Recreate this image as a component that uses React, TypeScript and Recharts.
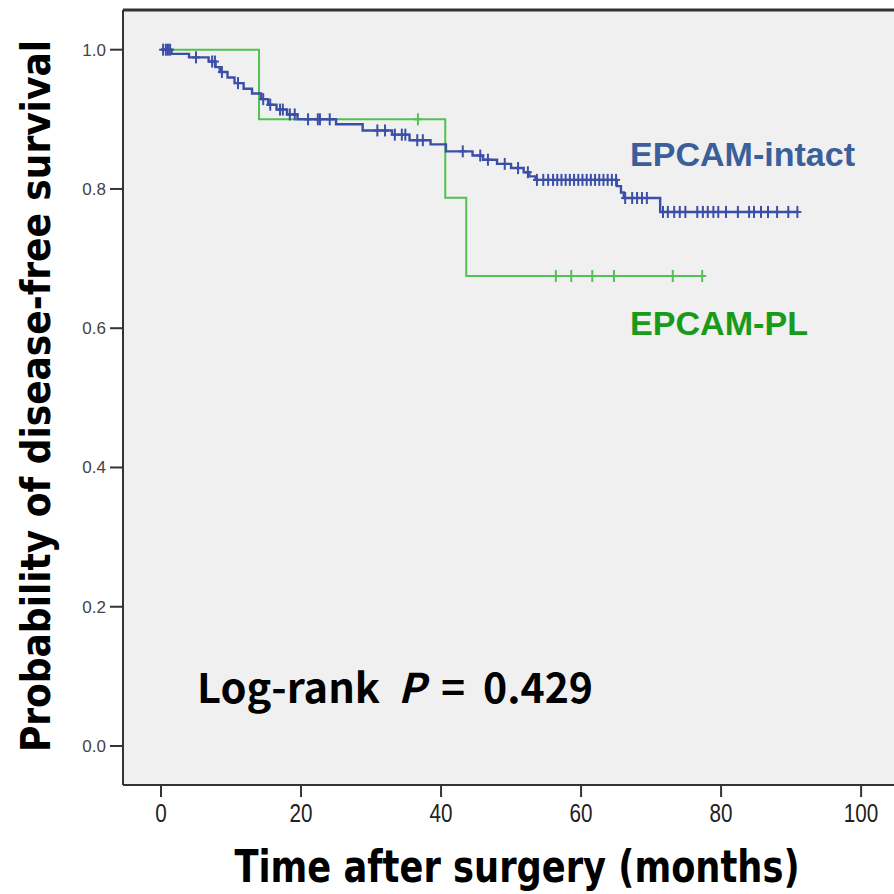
import { ComposedChart, Line, Scatter, XAxis, YAxis, ReferenceLine, CartesianGrid } from "recharts";

// Kaplan-Meier step points, EPCAM-intact
const intactTime = [0, 1.5, 4, 6.8, 7.8, 8.4, 9.5, 10.5, 11.8, 13, 14.3, 15.3, 16.5, 18, 19.5, 25, 28.8, 33, 35.5, 38.5, 40.7, 44.5, 46, 48, 50, 51.8, 52.6, 53.5, 65.1, 65.7, 66.1, 71.3, 90.9];
const intactSurv = [1.0, 0.994, 0.989, 0.983, 0.975, 0.968, 0.96, 0.952, 0.944, 0.937, 0.929, 0.921, 0.914, 0.907, 0.9, 0.893, 0.884, 0.878, 0.87, 0.864, 0.854, 0.848, 0.842, 0.836, 0.83, 0.824, 0.818, 0.813, 0.804, 0.795, 0.787, 0.767, 0.767];
const intactCensor = [0.3, 0.7, 1.0, 1.3, 5, 7.3, 7.7, 8.7, 11, 14.6, 15.6, 17, 17.4, 18.4, 19.1, 21, 22.4, 22.7, 24.1, 30.9, 32, 33.4, 34.4, 34.9, 36.6, 37.4, 43.1, 45.6, 46.7, 49.1, 51, 52.4, 53.7, 54.6, 55.3, 56, 56.6, 57.2, 57.8, 58.4, 59, 59.6, 60.2, 60.8, 61.4, 62, 62.6, 63.2, 63.8, 64.4, 65, 66.3, 67.3, 68, 68.7, 69.4, 71.7, 72.4, 73.3, 74.1, 74.9, 76.6, 77.4, 78.1, 78.9, 79.6, 80.7, 82.4, 84, 84.7, 85.7, 86.7, 88, 89.6, 90.9];

// EPCAM-PL
const plTime = [0, 14, 40.6, 43.6, 77.7];
const plSurv = [1.0, 0.9, 0.7875, 0.675, 0.675];
const plCensor = [36.7, 56.4, 58.6, 61.6, 64.7, 73.1, 77.3];

const xTicks = [0, 20, 40, 60, 80, 100];
const yTicks = [0, 0.2, 0.4, 0.6, 0.8, 1.0];

const X_DOMAIN: [number, number] = [-5.43, 104.7];
const Y_DOMAIN: [number, number] = [-0.056, 1.057];

const BLUE = "#3c4ea8";
const GREEN = "#52c152";

const survAt = (times: number[], surv: number[], t: number) => {
  let v = surv[0];
  for (let i = 0; i < times.length; i++) if (times[i] <= t) v = surv[i];
  return v;
};

const intactData = intactTime.map((t, i) => ({ t, s: intactSurv[i] }));
const plData = plTime.map((t, i) => ({ t, s: plSurv[i] }));
const intactMarks = intactCensor.map((t) => ({ t, s: survAt(intactTime, intactSurv, t) }));
const plMarks = plCensor.map((t) => ({ t, s: survAt(plTime, plSurv, t) }));

const censorShape = (color: string) => (props: any) => {
  const { cx, cy } = props;
  return (
    <g stroke={color} strokeWidth={2}>
      <line x1={cx} y1={cy - 6} x2={cx} y2={cy + 6} />
      <line x1={cx - 4} y1={cy} x2={cx + 4} y2={cy} />
    </g>
  );
};

const narrow = "'Liberation Sans Narrow', 'DejaVu Sans Condensed', 'Liberation Sans', Arial, sans-serif";

const XTick = (props: any) => {
  const { x, y, payload } = props;
  const label = String(payload.value);
  return (
    <text x={x} y={y + 23} textAnchor="middle" fontFamily="'Liberation Sans', Arial, sans-serif" fontSize={25} fill="#222" textLength={11.5 * label.length} lengthAdjust="spacingAndGlyphs">
      {label}
    </text>
  );
};

const YTick = (props: any) => {
  const { x, y, payload } = props;
  return (
    <text x={x - 2} y={y + 6} textAnchor="end" fontFamily="'Liberation Sans', Arial, sans-serif" fontSize={17} fill="#444">
      {Number(payload.value).toFixed(1)}
    </text>
  );
};

export default function App() {
  return (
    <div style={{ position: "absolute", left: 0, top: 0, width: 894, height: 894, overflow: "hidden", background: "#fff" }}>
      <ComposedChart width={894} height={894} margin={{ top: 10, right: 0, bottom: 0, left: 0 }}>
        <CartesianGrid horizontal={false} vertical={false} fill="#f0f0f0" />
        <XAxis
          type="number"
          dataKey="t"
          domain={X_DOMAIN}
          ticks={xTicks}
          allowDataOverflow
          height={109}
          axisLine={{ stroke: "#333", strokeWidth: 2 }}
          tickLine={{ stroke: "#333", strokeWidth: 2 }}
          tickSize={12}
          tick={<XTick />}
        />
        <YAxis
          type="number"
          dataKey="s"
          domain={Y_DOMAIN}
          ticks={yTicks}
          allowDataOverflow
          width={123}
          axisLine={{ stroke: "#333", strokeWidth: 2 }}
          tickLine={{ stroke: "#333", strokeWidth: 2 }}
          tickSize={13}
          tick={<YTick />}
        />
        <ReferenceLine y={Y_DOMAIN[1]} stroke="#333" strokeWidth={3} />
        <Line data={plData} dataKey="s" type="stepAfter" stroke={GREEN} strokeWidth={2} dot={false} isAnimationActive={false} />
        <Line data={intactData} dataKey="s" type="stepAfter" stroke={BLUE} strokeWidth={2.4} dot={false} isAnimationActive={false} />
        <Scatter data={plMarks} dataKey="s" shape={censorShape(GREEN)} isAnimationActive={false} />
        <Scatter data={intactMarks} dataKey="s" shape={censorShape(BLUE)} isAnimationActive={false} />
      </ComposedChart>
      <svg width={894} height={894} style={{ position: "absolute", left: 0, top: 0, pointerEvents: "none" }}>
        <text
          transform="translate(50,396) rotate(-90)"
          textAnchor="middle"
          fontFamily={narrow}
          fontWeight="bold"
          fontSize={40}
          textLength={712}
          lengthAdjust="spacingAndGlyphs"
          fill="#000"
        >
          Probability of disease-free survival
        </text>
        <text
          x={517}
          y={882}
          textAnchor="middle"
          fontFamily={narrow}
          fontWeight="bold"
          fontSize={44}
          textLength={565}
          lengthAdjust="spacingAndGlyphs"
          fill="#000"
        >
          Time after surgery (months)
        </text>
        <g fontFamily="'Noto Sans CJK KR', 'Noto Sans', sans-serif" fontWeight="bold" fontSize={41} fill="#000">
          <text x={197} y={703} textLength={183} lengthAdjust="spacingAndGlyphs">Log-rank</text>
          <text x={398} y={703} fontStyle="italic">P</text>
          <text x={441} y={703}>=</text>
          <text x={483} y={703} textLength={110} lengthAdjust="spacingAndGlyphs">0.429</text>
        </g>
        <text x={630} y={166} fontFamily="Arial, 'Liberation Sans', sans-serif" fontWeight="bold" fontSize={34} fill="#3a5f9a" textLength={225} lengthAdjust="spacingAndGlyphs">
          EPCAM-intact
        </text>
        <text x={630} y={335} fontFamily="Arial, 'Liberation Sans', sans-serif" fontWeight="bold" fontSize={34} fill="#1a9a1a" textLength={178} lengthAdjust="spacingAndGlyphs">
          EPCAM-PL
        </text>
      </svg>
    </div>
  );
}
